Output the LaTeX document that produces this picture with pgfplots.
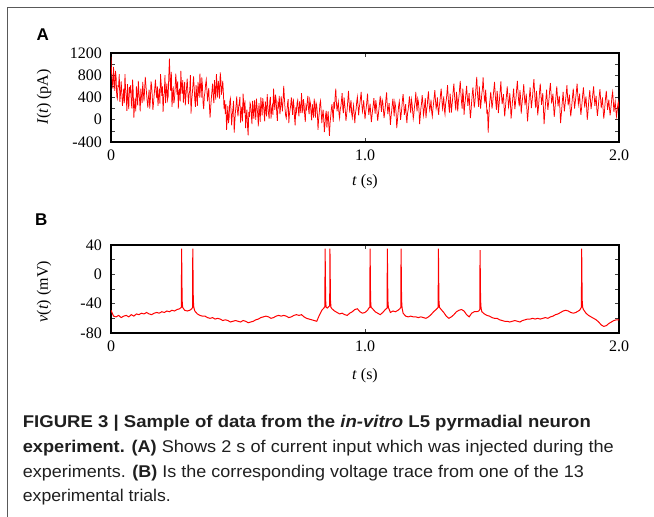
\documentclass[border=0pt]{standalone}
\usepackage{fontspec}
\setmainfont{Liberation Serif}
\setsansfont{Liberation Sans}
\usepackage{graphicx}
\usepackage{pgfplots}
\pgfplotsset{compat=1.18}
\definecolor{framegray}{gray}{0.35}
\pgfplotsset{mystyle/.style={
  scale only axis, width=508pt,
  xmin=0, xmax=2,
  xtick={0,1,2}, xticklabels={0,1.0,2.0},
  tick align=inside, major tick length=4pt,
  axis line style={line width=1.1pt},
  tick style={line width=0.7pt, color=black!75},
  tick label style={font=\fontsize{16}{16}\selectfont},
  /pgf/number format/assume math mode=true,
  label style={font=\fontsize{16}{16}\selectfont},
  xticklabel style={yshift=-4pt},
  yticklabel style={xshift=-5.7pt},
  clip=true,
}}
\begin{document}
\begin{tikzpicture}[x=1pt,y=1pt]
\path[use as bounding box] (0,0) rectangle (654,517);
\draw[line width=1.2pt, framegray] (654,509.7) -- (7.3,509.7) -- (7.3,-1);
\node[anchor=base west, inner sep=0, font=\sffamily\bfseries\fontsize{17}{17}\selectfont] at (36.5,476.3) {A};
\node[anchor=base west, inner sep=0, font=\sffamily\bfseries\fontsize{17}{17}\selectfont] at (35,291) {B};

\begin{axis}[mystyle, at={(111pt,375pt)}, anchor=south west, height=89pt,
  ymin=-400, ymax=1200, ytick={-400,-200,...,1200},
  yticklabels={-400,,0,,400,,800,,1200},
  xlabel={\textit{t} (s)}, ylabel={\textit{I}(\textit{t}) (pA)},
  xlabel style={at={(axis description cs:0.5,-0.446)}, anchor=center},
  ylabel style={at={(axis description cs:-0.132,0.506)}, anchor=center}]
\addplot[red, line width=0.75pt] coordinates {
(0,1130) (0.0025,820) (0.005,700) (0.0075,560) (0.01,950) (0.0125,690) (0.015,520) (0.0175,880) (0.02,780) (0.0225,430) (0.025,380) (0.0275,610) (0.03,600) (0.0325,820) (0.035,320) (0.0375,470) (0.04,690) (0.0425,500) (0.045,250) (0.0475,380)
(0.05,560) (0.0525,300) (0.055,820) (0.0575,540) (0.06,410) (0.0625,160) (0.065,640) (0.0675,350) (0.07,190) (0.0725,590) (0.075,480) (0.0775,620) (0.08,300) (0.0825,200) (0.085,720) (0.0875,510) (0.09,40) (0.0925,250) (0.095,380) (0.0975,150)
(0.1,600) (0.1025,430) (0.105,260) (0.1075,700) (0.11,500) (0.1125,350) (0.115,150) (0.1175,560) (0.12,430) (0.1225,300) (0.125,680) (0.1275,480) (0.13,330) (0.1325,560) (0.135,770) (0.1375,620) (0.14,470) (0.1425,330) (0.145,220) (0.1475,400)
(0.15,540) (0.1525,200) (0.155,360) (0.1575,690) (0.16,610) (0.1625,420) (0.165,180) (0.1675,300) (0.17,450) (0.1725,580) (0.175,720) (0.1775,500) (0.18,390) (0.1825,600) (0.185,250) (0.1875,420) (0.19,560) (0.1925,290) (0.195,820) (0.1975,650)
(0.2,430) (0.2025,600) (0.205,140) (0.2075,380) (0.21,500) (0.2125,800) (0.215,300) (0.2175,520) (0.22,650) (0.2225,360) (0.225,420) (0.2275,780) (0.23,1100) (0.2325,700) (0.235,520) (0.2375,860) (0.24,230) (0.2425,410) (0.245,600) (0.2475,300)
(0.25,380) (0.2525,560) (0.255,830) (0.2575,640) (0.26,450) (0.2625,690) (0.265,200) (0.2675,480) (0.27,560) (0.2725,330) (0.275,880) (0.2775,620) (0.28,470) (0.2825,710) (0.285,310) (0.2875,500) (0.29,680) (0.2925,260) (0.295,420) (0.2975,580)
(0.3,740) (0.3025,500) (0.305,280) (0.3075,450) (0.31,530) (0.3125,800) (0.315,110) (0.3175,340) (0.32,460) (0.3225,620) (0.325,780) (0.3275,570) (0.33,350) (0.3325,230) (0.335,620) (0.3375,450) (0.34,250) (0.3425,680) (0.345,540) (0.3475,400)
(0.35,830) (0.3525,590) (0.355,400) (0.3575,760) (0.36,610) (0.3625,300) (0.365,190) (0.3675,420) (0.37,500) (0.3725,640) (0.375,720) (0.3775,540) (0.38,330) (0.3825,480) (0.385,570) (0.3875,250) (0.39,40) (0.3925,220) (0.395,380) (0.3975,520)
(0.4,650) (0.4025,430) (0.405,300) (0.4075,710) (0.41,520) (0.4125,360) (0.415,820) (0.4175,590) (0.42,400) (0.4225,700) (0.425,600) (0.4275,380) (0.43,850) (0.4325,720) (0.435,450) (0.4375,560) (0.44,700) (0.4425,480) (0.445,200) (0.4475,350)
(0.45,100) (0.4525,280) (0.455,-180) (0.4575,20) (0.46,250) (0.4625,-60) (0.465,30) (0.4675,320) (0.47,380) (0.4725,160) (0.475,-100) (0.4775,90) (0.48,200) (0.4825,340) (0.485,-230) (0.4875,-40) (0.49,150) (0.4925,260) (0.495,420) (0.4975,180)
(0.5,60) (0.5025,230) (0.505,300) (0.5075,410) (0.51,-50) (0.5125,120) (0.515,230) (0.5175,-30) (0.52,470) (0.5225,280) (0.525,120) (0.5275,350) (0.53,-150) (0.5325,60) (0.535,180) (0.5375,-120) (0.54,-280) (0.5425,140) (0.545,50) (0.5475,300)
(0.55,260) (0.5525,80) (0.555,-80) (0.5575,340) (0.56,150) (0.5625,20) (0.565,350) (0.5675,200) (0.57,0) (0.5725,380) (0.575,220) (0.5775,110) (0.58,-120) (0.5825,300) (0.585,130) (0.5875,-40) (0.59,400) (0.5925,240) (0.595,80) (0.5975,390)
(0.6,280) (0.6025,150) (0.605,-30) (0.6075,330) (0.61,200) (0.6125,60) (0.615,460) (0.6175,250) (0.62,120) (0.6225,20) (0.625,330) (0.6275,410) (0.63,20) (0.6325,180) (0.635,250) (0.6375,90) (0.64,560) (0.6425,330) (0.645,180) (0.6475,450)
(0.65,370) (0.6525,120) (0.655,-20) (0.6575,290) (0.66,240) (0.6625,430) (0.665,100) (0.6675,210) (0.67,420) (0.6725,280) (0.675,150) (0.6775,360) (0.68,610) (0.6825,400) (0.685,210) (0.6875,80) (0.69,30) (0.6925,150) (0.695,290) (0.6975,370)
(0.7,-60) (0.7025,100) (0.705,180) (0.7075,260) (0.71,400) (0.7125,240) (0.715,90) (0.7175,380) (0.72,260) (0.7225,40) (0.725,-100) (0.7275,220) (0.73,140) (0.7325,300) (0.735,350) (0.7375,170) (0.74,60) (0.7425,330) (0.745,230) (0.7475,120)
(0.75,480) (0.7525,260) (0.755,120) (0.7575,370) (0.76,280) (0.7625,90) (0.765,-40) (0.7675,250) (0.77,200) (0.7725,320) (0.775,430) (0.7775,200) (0.78,100) (0.7825,360) (0.785,300) (0.7875,130) (0.79,-10) (0.7925,280) (0.795,170) (0.7975,40)
(0.8,380) (0.8025,230) (0.805,40) (0.8075,300) (0.81,250) (0.8125,110) (0.815,-180) (0.8175,20) (0.82,120) (0.8225,290) (0.825,340) (0.8275,150) (0.83,-60) (0.8325,80) (0.835,180) (0.8375,10) (0.84,-220) (0.8425,-80) (0.845,90) (0.8475,160)
(0.85,-140) (0.8525,30) (0.855,150) (0.8575,-100) (0.86,-290) (0.8625,-60) (0.865,60) (0.8675,190) (0.87,280) (0.8725,120) (0.875,-40) (0.8775,320) (0.88,200) (0.8825,420) (0.885,560) (0.8875,300) (0.89,150) (0.8925,250) (0.895,320) (0.8975,110)
(0.9,30) (0.9025,190) (0.905,240) (0.9075,350) (0.91,480) (0.9125,200) (0.915,120) (0.9175,400) (0.92,290) (0.9225,160) (0.925,-20) (0.9275,90) (0.93,200) (0.9325,360) (0.935,520) (0.9375,310) (0.94,130) (0.9425,260) (0.945,350) (0.9475,110)
(0.95,40) (0.9525,180) (0.955,260) (0.9575,90) (0.96,-60) (0.9625,120) (0.965,190) (0.9675,330) (0.97,410) (0.9725,250) (0.975,80) (0.9775,220) (0.98,300) (0.9825,400) (0.985,500) (0.9875,280) (0.99,150) (0.9925,230) (0.995,350) (0.9975,170)
(1,10) (1.0025,130) (1.005,220) (1.0075,340) (1.01,470) (1.0125,250) (1.015,90) (1.0175,180) (1.02,290) (1.0225,110) (1.025,-40) (1.0275,70) (1.03,180) (1.0325,270) (1.035,390) (1.0375,230) (1.04,110) (1.0425,350) (1.045,260) (1.0475,120)
(1.05,-20) (1.0525,90) (1.055,200) (1.0575,310) (1.06,430) (1.0625,260) (1.065,140) (1.0675,360) (1.07,320) (1.0725,180) (1.075,30) (1.0775,130) (1.08,230) (1.0825,380) (1.085,490) (1.0875,270) (1.09,100) (1.0925,210) (1.095,300) (1.0975,100)
(1.1,-90) (1.1025,50) (1.105,160) (1.1075,280) (1.11,380) (1.1125,200) (1.115,60) (1.1175,320) (1.12,250) (1.1225,120) (1.125,-150) (1.1275,-20) (1.13,120) (1.1325,250) (1.135,330) (1.1375,190) (1.14,0) (1.1425,100) (1.145,220) (1.1475,360)
(1.15,460) (1.1525,300) (1.155,90) (1.1575,170) (1.16,280) (1.1625,60) (1.165,-60) (1.1675,120) (1.17,180) (1.1725,300) (1.175,420) (1.1775,250) (1.18,120) (1.1825,370) (1.185,300) (1.1875,160) (1.19,20) (1.1925,110) (1.195,240) (1.1975,330)
(1.2,500) (1.2025,280) (1.205,150) (1.2075,380) (1.21,330) (1.2125,190) (1.215,-80) (1.2175,60) (1.22,200) (1.2225,290) (1.225,440) (1.2275,330) (1.23,80) (1.2325,150) (1.235,280) (1.2375,390) (1.24,30) (1.2425,170) (1.245,250) (1.2475,410)
(1.25,510) (1.2525,290) (1.255,170) (1.2575,230) (1.26,360) (1.2625,140) (1.265,60) (1.2675,200) (1.27,300) (1.2725,420) (1.275,530) (1.2775,350) (1.28,200) (1.2825,260) (1.285,400) (1.2875,180) (1.29,90) (1.2925,250) (1.295,330) (1.2975,460)
(1.3,560) (1.3025,380) (1.305,200) (1.3075,270) (1.31,420) (1.3125,180) (1.315,100) (1.3175,290) (1.32,350) (1.3225,480) (1.325,620) (1.3275,400) (1.33,240) (1.3325,130) (1.335,470) (1.3375,340) (1.34,130) (1.3425,260) (1.345,380) (1.3475,540)
(1.35,650) (1.3525,430) (1.355,290) (1.3575,170) (1.36,500) (1.3625,400) (1.365,150) (1.3675,320) (1.37,420) (1.3725,560) (1.375,700) (1.3775,480) (1.38,320) (1.3825,200) (1.385,560) (1.3875,420) (1.39,90) (1.3925,250) (1.395,360) (1.3975,480)
(1.4,610) (1.4025,420) (1.405,250) (1.4075,360) (1.41,480) (1.4125,200) (1.415,30) (1.4175,160) (1.42,330) (1.4225,470) (1.425,580) (1.4275,400) (1.43,220) (1.4325,310) (1.435,450) (1.4375,620) (1.44,770) (1.4425,500) (1.445,350) (1.4475,230)
(1.45,600) (1.4525,420) (1.455,200) (1.4575,330) (1.46,470) (1.4625,560) (1.465,760) (1.4675,530) (1.47,380) (1.4725,290) (1.475,540) (1.4775,360) (1.48,100) (1.4825,180) (1.485,-230) (1.4875,40) (1.49,260) (1.4925,380) (1.495,500) (1.4975,360)
(1.5,200) (1.5025,300) (1.505,430) (1.5075,560) (1.51,680) (1.5125,470) (1.515,300) (1.5175,180) (1.52,520) (1.5225,410) (1.525,120) (1.5275,250) (1.53,400) (1.5325,540) (1.535,690) (1.5375,430) (1.54,280) (1.5425,380) (1.545,460) (1.5475,230)
(1.55,60) (1.5525,200) (1.555,340) (1.5575,460) (1.56,600) (1.5625,410) (1.565,230) (1.5675,300) (1.57,480) (1.5725,320) (1.575,20) (1.5775,140) (1.58,300) (1.5825,420) (1.585,560) (1.5875,380) (1.59,190) (1.5925,300) (1.595,420) (1.5975,580)
(1.6,700) (1.6025,490) (1.605,330) (1.6075,240) (1.61,530) (1.6125,400) (1.615,110) (1.6175,260) (1.62,370) (1.6225,500) (1.625,640) (1.6275,430) (1.63,260) (1.6325,350) (1.635,470) (1.6375,170) (1.64,-30) (1.6425,140) (1.645,290) (1.6475,430)
(1.65,580) (1.6525,390) (1.655,210) (1.6575,320) (1.66,440) (1.6625,590) (1.665,730) (1.6675,520) (1.67,300) (1.6725,210) (1.675,520) (1.6775,360) (1.68,80) (1.6825,200) (1.685,350) (1.6875,520) (1.69,650) (1.6925,460) (1.695,270) (1.6975,380)
(1.7,480) (1.7025,210) (1.705,-80) (1.7075,90) (1.71,250) (1.7125,400) (1.715,540) (1.7175,330) (1.72,180) (1.7225,290) (1.725,400) (1.7275,560) (1.73,660) (1.7325,470) (1.735,290) (1.7375,380) (1.74,470) (1.7425,250) (1.745,50) (1.7475,180)
(1.75,320) (1.7525,460) (1.755,600) (1.7575,420) (1.76,240) (1.7625,350) (1.765,430) (1.7675,190) (1.77,-60) (1.7725,80) (1.775,220) (1.7775,360) (1.78,500) (1.7825,300) (1.785,150) (1.7875,270) (1.79,370) (1.7925,480) (1.795,620) (1.7975,410)
(1.8,260) (1.8025,360) (1.805,450) (1.8075,200) (1.81,60) (1.8125,170) (1.815,310) (1.8175,440) (1.82,560) (1.8225,380) (1.825,200) (1.8275,300) (1.83,410) (1.8325,520) (1.835,650) (1.8375,460) (1.84,280) (1.8425,360) (1.845,470) (1.8475,230)
(1.85,90) (1.8525,200) (1.855,340) (1.8575,470) (1.86,580) (1.8625,410) (1.865,220) (1.8675,320) (1.87,420) (1.8725,230) (1.875,0) (1.8775,120) (1.88,280) (1.8825,420) (1.885,530) (1.8875,360) (1.89,190) (1.8925,280) (1.895,380) (1.8975,490)
(1.9,600) (1.9025,420) (1.905,250) (1.9075,340) (1.91,430) (1.9125,200) (1.915,70) (1.9175,180) (1.92,320) (1.9225,440) (1.925,550) (1.9275,380) (1.93,210) (1.9325,300) (1.935,400) (1.9375,190) (1.94,20) (1.9425,130) (1.945,290) (1.9475,410)
(1.95,520) (1.9525,350) (1.955,180) (1.9575,270) (1.96,360) (1.9625,200) (1.965,80) (1.9675,190) (1.97,300) (1.9725,430) (1.975,500) (1.9775,340) (1.98,140) (1.9825,250) (1.985,330) (1.9875,180) (1.99,60) (1.9925,150) (1.995,260) (1.9975,320)
(2,200)
};
\end{axis}

\begin{axis}[mystyle, at={(111pt,184pt)}, anchor=south west, height=88pt,
  ymin=-80, ymax=40, ytick={-80,-60,...,40},
  yticklabels={-80,,-40,,0,,40},
  xlabel={\textit{t} (s)}, ylabel={\textit{v}(\textit{t}) (mV)},
  xlabel style={at={(axis description cs:0.5,-0.483)}, anchor=center},
  ylabel style={at={(axis description cs:-0.132,0.47)}, anchor=center}]
\addplot[red, line width=1pt] coordinates {
(0,-49) (0.01,-57) (0.02,-58) (0.03,-56) (0.04,-59) (0.05,-57) (0.06,-56) (0.07,-58) (0.08,-55) (0.09,-57)
(0.10,-54) (0.11,-55) (0.12,-53) (0.13,-54) (0.14,-52) (0.15,-54) (0.16,-55) (0.17,-53) (0.18,-52) (0.19,-53)
(0.20,-51) (0.21,-52) (0.22,-50) (0.23,-51) (0.24,-49) (0.25,-50) (0.26,-48) (0.27,-47)
(0.277,-45) (0.278,35) (0.280,-35) (0.282,-45)
(0.29,-49) (0.30,-50) (0.31,-49) (0.318,-47)
(0.321,-45) (0.322,35) (0.324,-35) (0.326,-45)
(0.33,-50) (0.34,-54) (0.35,-56) (0.36,-57) (0.37,-57) (0.38,-59) (0.39,-60) (0.40,-59) (0.41,-61) (0.42,-60)
(0.43,-61) (0.44,-63) (0.45,-62) (0.46,-63) (0.47,-65) (0.48,-64) (0.49,-63) (0.50,-64) (0.51,-65) (0.52,-63)
(0.53,-64) (0.54,-66) (0.55,-65) (0.56,-64) (0.57,-62) (0.58,-61) (0.59,-59) (0.60,-58) (0.61,-57) (0.62,-58)
(0.63,-60) (0.64,-59) (0.65,-57) (0.66,-56) (0.67,-57) (0.68,-56) (0.69,-57) (0.70,-59) (0.71,-58) (0.72,-56)
(0.73,-55) (0.74,-56) (0.75,-55) (0.76,-58) (0.77,-60) (0.78,-61) (0.79,-62) (0.80,-63) (0.81,-64) (0.82,-56)
(0.83,-49) (0.838,-46)
(0.842,-44) (0.843,35) (0.845,-35) (0.847,-45)
(0.852,-46) (0.857,-44)
(0.861,-43) (0.862,35) (0.864,-35) (0.866,-45)
(0.87,-47) (0.88,-50) (0.89,-52) (0.90,-54) (0.91,-53) (0.92,-55) (0.93,-56) (0.94,-53) (0.95,-51) (0.96,-48)
(0.97,-47) (0.98,-51) (0.99,-53) (1.00,-52) (1.01,-49) (1.015,-46)
(1.019,-45) (1.02,35) (1.022,-35) (1.024,-45)
(1.03,-47) (1.04,-51) (1.05,-53) (1.06,-55) (1.07,-52) (1.08,-48)
(1.087,-46) (1.088,35) (1.090,-35) (1.092,-45)
(1.10,-52) (1.11,-50) (1.12,-51) (1.13,-49) (1.137,-47)
(1.141,-45) (1.142,35) (1.144,-35) (1.146,-46)
(1.15,-53) (1.16,-57) (1.17,-58) (1.18,-57) (1.19,-58) (1.20,-58) (1.21,-59) (1.22,-58) (1.23,-59) (1.24,-60)
(1.25,-58) (1.26,-55) (1.27,-51) (1.28,-48)
(1.288,-45) (1.289,35) (1.291,-35) (1.293,-45)
(1.30,-48) (1.31,-52) (1.32,-57) (1.33,-60) (1.34,-58) (1.35,-55) (1.36,-51) (1.37,-49) (1.38,-48) (1.39,-50)
(1.40,-55) (1.41,-58) (1.42,-53) (1.43,-51) (1.44,-51) (1.448,-50)
(1.452,-48) (1.453,33) (1.455,-35) (1.457,-46)
(1.46,-51) (1.47,-54) (1.48,-56) (1.49,-57) (1.50,-59) (1.51,-60) (1.52,-60) (1.53,-62) (1.54,-63) (1.55,-64)
(1.56,-64) (1.57,-65) (1.58,-64) (1.59,-63) (1.60,-64) (1.61,-65) (1.62,-63) (1.63,-62) (1.64,-61) (1.65,-61)
(1.66,-60) (1.67,-61) (1.68,-60) (1.69,-61) (1.70,-60) (1.71,-59) (1.72,-60) (1.73,-58) (1.74,-57) (1.75,-55)
(1.76,-54) (1.77,-52) (1.78,-50) (1.79,-49) (1.80,-50) (1.81,-52) (1.82,-53) (1.83,-52) (1.845,-49) (1.85,-46)
(1.852,-45) (1.853,35) (1.855,-35) (1.857,-45)
(1.86,-48) (1.87,-53) (1.88,-56) (1.89,-58) (1.90,-60) (1.91,-62) (1.92,-65) (1.93,-69) (1.94,-71) (1.95,-70)
(1.96,-67) (1.97,-65) (1.98,-63) (1.99,-62) (2.00,-62)
};
\end{axis}

\begin{scope}[every node/.style={anchor=base west, inner sep=0, text=black!88, font=\sffamily\fontsize{17}{17}\selectfont}]
\node at (22.7,89) {\resizebox{568pt}{\height}{\textbf{FIGURE 3 | Sample of data from the \textit{in-vitro} L5 pyrmadial neuron}}};
\node at (22.7,64.3) {\resizebox{591pt}{\height}{\textbf{experiment. (A)} Shows 2 s of current input which was injected during the}};
\node at (22.7,39.6) {\resizebox{561pt}{\height}{experiments. \textbf{(B)} Is the corresponding voltage trace from one of the 13}};
\node at (22.7,15) {\resizebox{148pt}{\height}{experimental trials.}};
\end{scope}
\end{tikzpicture}
\end{document}
